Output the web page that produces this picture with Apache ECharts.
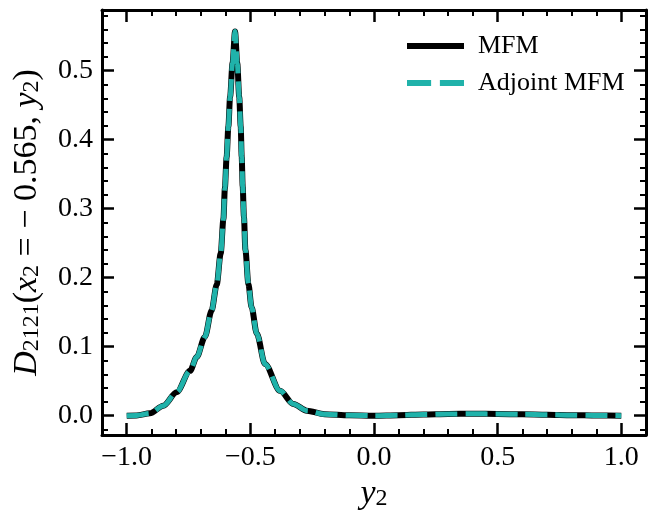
<!DOCTYPE html>
<html><head><meta charset="utf-8">
<script src="https://cdn.jsdelivr.net/npm/echarts@6/dist/echarts.min.js"></script>
<style>html,body{margin:0;padding:0;background:#fff}#c{width:648px;height:514px}</style>
</head><body><div id="c"></div>
<script>
const y2Values = [-1.0,-0.96,-0.906,-0.852,-0.798,-0.744,-0.717,-0.684,-0.657,-0.636,-0.62,-0.609,-0.603,-0.596,-0.589,-0.582,-0.572,-0.562,-0.553,-0.545,-0.539,-0.535,-0.531,-0.526,-0.52,-0.508,-0.495,-0.474,-0.441,-0.38,-0.326,-0.272,-0.2,-0.1,0.0,0.1,0.2,0.3,0.4,0.5,0.6,0.7,0.8,0.9,1.0];
const dMFM = [0.0,0.0003,0.0034,0.0145,0.034,0.065,0.085,0.114,0.152,0.19,0.235,0.285,0.33,0.375,0.419,0.462,0.511,0.557,0.511,0.462,0.419,0.375,0.332,0.288,0.24,0.191,0.157,0.119,0.075,0.036,0.017,0.0073,0.002,0.0005,0.0,0.0008,0.0018,0.0025,0.0028,0.0025,0.002,0.0015,0.0008,0.0003,0.0];
const dAdjoint = [0.0,0.0003,0.0034,0.0145,0.034,0.065,0.085,0.114,0.152,0.19,0.235,0.285,0.33,0.375,0.419,0.462,0.511,0.557,0.511,0.462,0.419,0.375,0.332,0.288,0.24,0.191,0.157,0.119,0.075,0.036,0.017,0.0073,0.002,0.0005,0.0,0.0008,0.0018,0.0025,0.0028,0.0025,0.002,0.0015,0.0008,0.0003,0.0];
const seriesNames = ['MFM', 'Adjoint MFM'];
const xMajorTicks = [-1.0,-0.5,0.0,0.5,1.0];
const xMinorTicks = [-0.9,-0.8,-0.7,-0.6,-0.4,-0.3,-0.2,-0.1,0.1,0.2,0.3,0.4,0.6,0.7,0.8,0.9];
const yMajorTicks = [0.0,0.1,0.2,0.3,0.4,0.5];
const yMinorTicks = [-0.02,0.02,0.04,0.06,0.08,0.12,0.14,0.16,0.18,0.22,0.24,0.26,0.28,0.32,0.34,0.36,0.38,0.42,0.44,0.46,0.48,0.52,0.54,0.56,0.58];

const X_MIN = -1.1, X_MAX = 1.1, Y_MIN = -0.028, Y_MAX = 0.588;
const FONT = 'Liberation Serif';
const fmt = v => v.toFixed(1).replace('-', '\u2212');

function axisCfg(kind, pos, ticks, len, major) {
  const isX = kind === 'x';
  return {
    type: 'value', position: pos, gridIndex: 0,
    min: isX ? X_MIN : Y_MIN, max: isX ? X_MAX : Y_MAX,
    axisLine: {show: major, onZero: false, lineStyle: {color: '#000', width: 3}},
    axisTick: {show: true, inside: true, length: len, customValues: ticks,
      lineStyle: {color: '#000', width: major ? 2.5 : 2}},
    axisLabel: {show: major && (pos === 'bottom' || pos === 'left'), customValues: ticks,
      formatter: fmt, margin: 9, fontSize: 28, fontFamily: FONT, color: '#000'},
    splitLine: {show: false}, minorTick: {show: false}
  };
}

const chart = echarts.init(document.getElementById('c'), null, {renderer: 'canvas'});
const xAxes = [
  axisCfg('x', 'bottom', xMajorTicks, 12, true),
  axisCfg('x', 'bottom', xMinorTicks, 6, false),
  axisCfg('x', 'top', xMajorTicks, 12, true),
  axisCfg('x', 'top', xMinorTicks, 6, false)
];
const yAxes = [
  axisCfg('y', 'left', yMajorTicks, 12, true),
  axisCfg('y', 'left', yMinorTicks, 6, false),
  axisCfg('y', 'right', yMajorTicks, 12, true),
  axisCfg('y', 'right', yMinorTicks, 6, false)
];
const richStyles = {
  i: {fontFamily: FONT, fontStyle: 'italic', fontSize: 34, lineHeight: 40, verticalAlign: 'bottom', color: '#000'},
  n: {fontFamily: FONT, fontSize: 34, lineHeight: 40, verticalAlign: 'bottom', color: '#000'},
  s: {fontFamily: FONT, fontSize: 24, lineHeight: 14, verticalAlign: 'bottom', color: '#000'}
};
xAxes[0].name = '{i|y}{s|2}';
xAxes[0].nameLocation = 'middle';
xAxes[0].nameGap = 35;
xAxes[0].nameTextStyle = {rich: richStyles};
yAxes[0].name = '{i|D}{s|2121}{n|(}{i|x}{s|2}{n| = \u2212 0.565, }{i|y}{s|2}{n|)}';
yAxes[0].nameLocation = 'middle';
yAxes[0].nameRotate = 90;
yAxes[0].nameGap = 58;
yAxes[0].nameTextStyle = {rich: richStyles};

const pts = arr => y2Values.map((x, i) => [x, arr[i]]);

chart.setOption({
  animation: false,
  backgroundColor: '#fff',
  grid: {left: 102, right: 2, top: 10, bottom: 79, containLabel: false, outerBoundsMode: 'none'},
  xAxis: xAxes,
  yAxis: yAxes,
  legend: {
    orient: 'vertical', left: 402, top: 26, itemWidth: 57, itemHeight: 6, itemGap: 7,
    symbolKeepAspect: false,
    textStyle: {fontFamily: FONT, fontSize: 26, lineHeight: 30, color: '#000', padding: [0, 0, 0, 9]},
    itemStyle: {borderWidth: 0},
    data: [
      {name: seriesNames[0], icon: 'path://M0,0h57v6h-57z'},
      {name: seriesNames[1], icon: 'path://M3,0h22v5h-22z M33,0h22v5h-22z'}
    ]
  },
  series: [
    {name: seriesNames[0], type: 'line', data: pts(dMFM), symbol: 'none', smooth: 0.3, smoothMonotone: 'x',
      lineStyle: {color: '#000', width: 6, join: 'round'}, itemStyle: {color: '#000'}},
    {name: seriesNames[1], type: 'line', data: pts(dAdjoint), symbol: 'none', smooth: 0.3, smoothMonotone: 'x',
      lineStyle: {color: '#20B2AA', width: 5, type: [22, 8], join: 'round'}, itemStyle: {color: '#20B2AA'}}
  ]
});
</script></body></html>
